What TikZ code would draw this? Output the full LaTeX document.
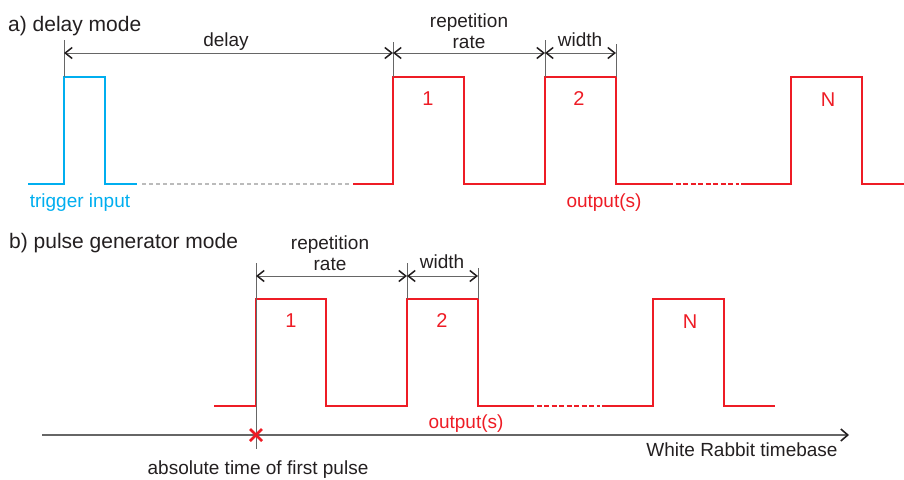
\documentclass[tikz,border=0pt]{standalone}
\usepackage{fontspec}
\setmainfont{Liberation Sans}
\usetikzlibrary{arrows.meta}
\definecolor{sigred}{HTML}{EE1C25}
\definecolor{trigblue}{HTML}{00AEEF}
\definecolor{darktxt}{HTML}{231F20}
\definecolor{gapgray}{HTML}{BBBBBB}
\definecolor{axisgray}{HTML}{666666}

\begin{document}
\begin{tikzpicture}[x=1pt,y=-1pt,
	title/.style={anchor=west, inner sep=0pt, text=darktxt, font=\fontsize{21}{24}\selectfont},
	lbl/.style={inner sep=0pt, text=darktxt, align=center, font=\fontsize{19}{21}\selectfont},
	num/.style={inner sep=0pt, text=sigred, font=\fontsize{20}{22}\selectfont},
	sig/.style={line width=1.8pt, sigred},
	trig/.style={line width=1.8pt, trigblue},
	gap/.style={line width=1.3pt, gapgray, dash pattern=on 4pt off 3pt},
	ext/.style={line width=0.9pt, axisgray},
	dim/.style={line width=1pt, axisgray, {Straight Barb[length=7pt,width=11pt,line width=1.5pt,color=darktxt]}-{Straight Barb[length=7pt,width=11pt,line width=1.5pt,color=darktxt]}},
	axis/.style={line width=1.5pt, axisgray, -{Straight Barb[length=7pt,width=12pt,line width=1.6pt,color=darktxt]}}]
	\useasboundingbox (0,0) rectangle (904,479);

	% a) delay mode
	\node[title] (ta) at (8,26) {a) delay mode};
	\draw[trig] (28,184) -| (64,77) -| (105,184) -- (137,184);
	\draw[gap] (142,184) -- (350,184);
	\draw[sig] (353,184) -| (393,77) -| (464,184) -| (545,77) -| (616,184) -- (668,184);
	\draw[sig, dash pattern=on 5pt off 2.5pt] (668,184) -- (739,184);
	\draw[sig] (741,184) -| (791,77) -| (862,184) -- (904,184);
	\coordinate (d0) at (64,53);
	\coordinate (d1) at (393,53);
	\coordinate (d2) at (545,53);
	\coordinate (d3) at (616,53);
	\draw[ext] (64,40) -- (64,77);
	\draw[ext] (393,42) -- (393,77);
	\draw[ext] (545,40) -- (545,77);
	\draw[ext] (616,44) -- (616,77);
	\draw[dim] (d0) -- (d1);
	\draw[dim] (d1) -- (d2);
	\draw[dim] (d2) -- (d3);
	\node[lbl] (delay) at (226,42) {delay};
	\node[lbl] (rep) at (469,31) {repetition\\rate};
	\node[lbl] (wid) at (580,40) {width};
	\node[num] (p1) at (428,99) {1};
	\node[num] (p2) at (579,99) {2};
	\node[num] (pN) at (828,100) {N};
	\node[lbl, text=trigblue] (trin) at (80,203) {trigger input};
	\node[lbl, text=sigred] (outa) at (604,203) {output(s)};

	% b) pulse generator mode
	\node[title] (tb) at (9,243) {b) pulse generator mode};
	\draw[sig] (214,406) -| (256,299) -| (326,406) -| (407,299) -| (478,406) -- (529,406);
	\draw[sig, dash pattern=on 5pt off 2.5pt] (529,406) -- (600,406);
	\draw[sig] (602,406) -| (653,299) -| (724,406) -- (775,406);
	\coordinate (e0) at (256,276);
	\coordinate (e1) at (407,276);
	\coordinate (e2) at (478,276);
	\draw[ext] (256,263) -- (256,449);
	\draw[ext] (407,263) -- (407,299);
	\draw[ext] (478,268) -- (478,299);
	\draw[dim] (e0) -- (e1);
	\draw[dim] (e1) -- (e2);
	\coordinate (t0) at (42,435);
	\coordinate (t1) at (849,435);
	\draw[axis] (t0) -- (t1);
	\draw[sigred, line width=2.8pt] (250,429) -- (262,441) (250,441) -- (262,429);
	\node[lbl] (repb) at (330,253) {repetition\\rate};
	\node[lbl] (widb) at (442,262) {width};
	\node[num] (q1) at (291,321) {1};
	\node[num] (q2) at (442,321) {2};
	\node[num] (qN) at (690,322) {N};
	\node[lbl, text=sigred] (outb) at (466,424) {output(s)};
	\node[lbl] (wr) at (742,450) {White Rabbit timebase};
	\node[lbl] (abs) at (258,470) {absolute time of first pulse};
\end{tikzpicture}
\end{document}
